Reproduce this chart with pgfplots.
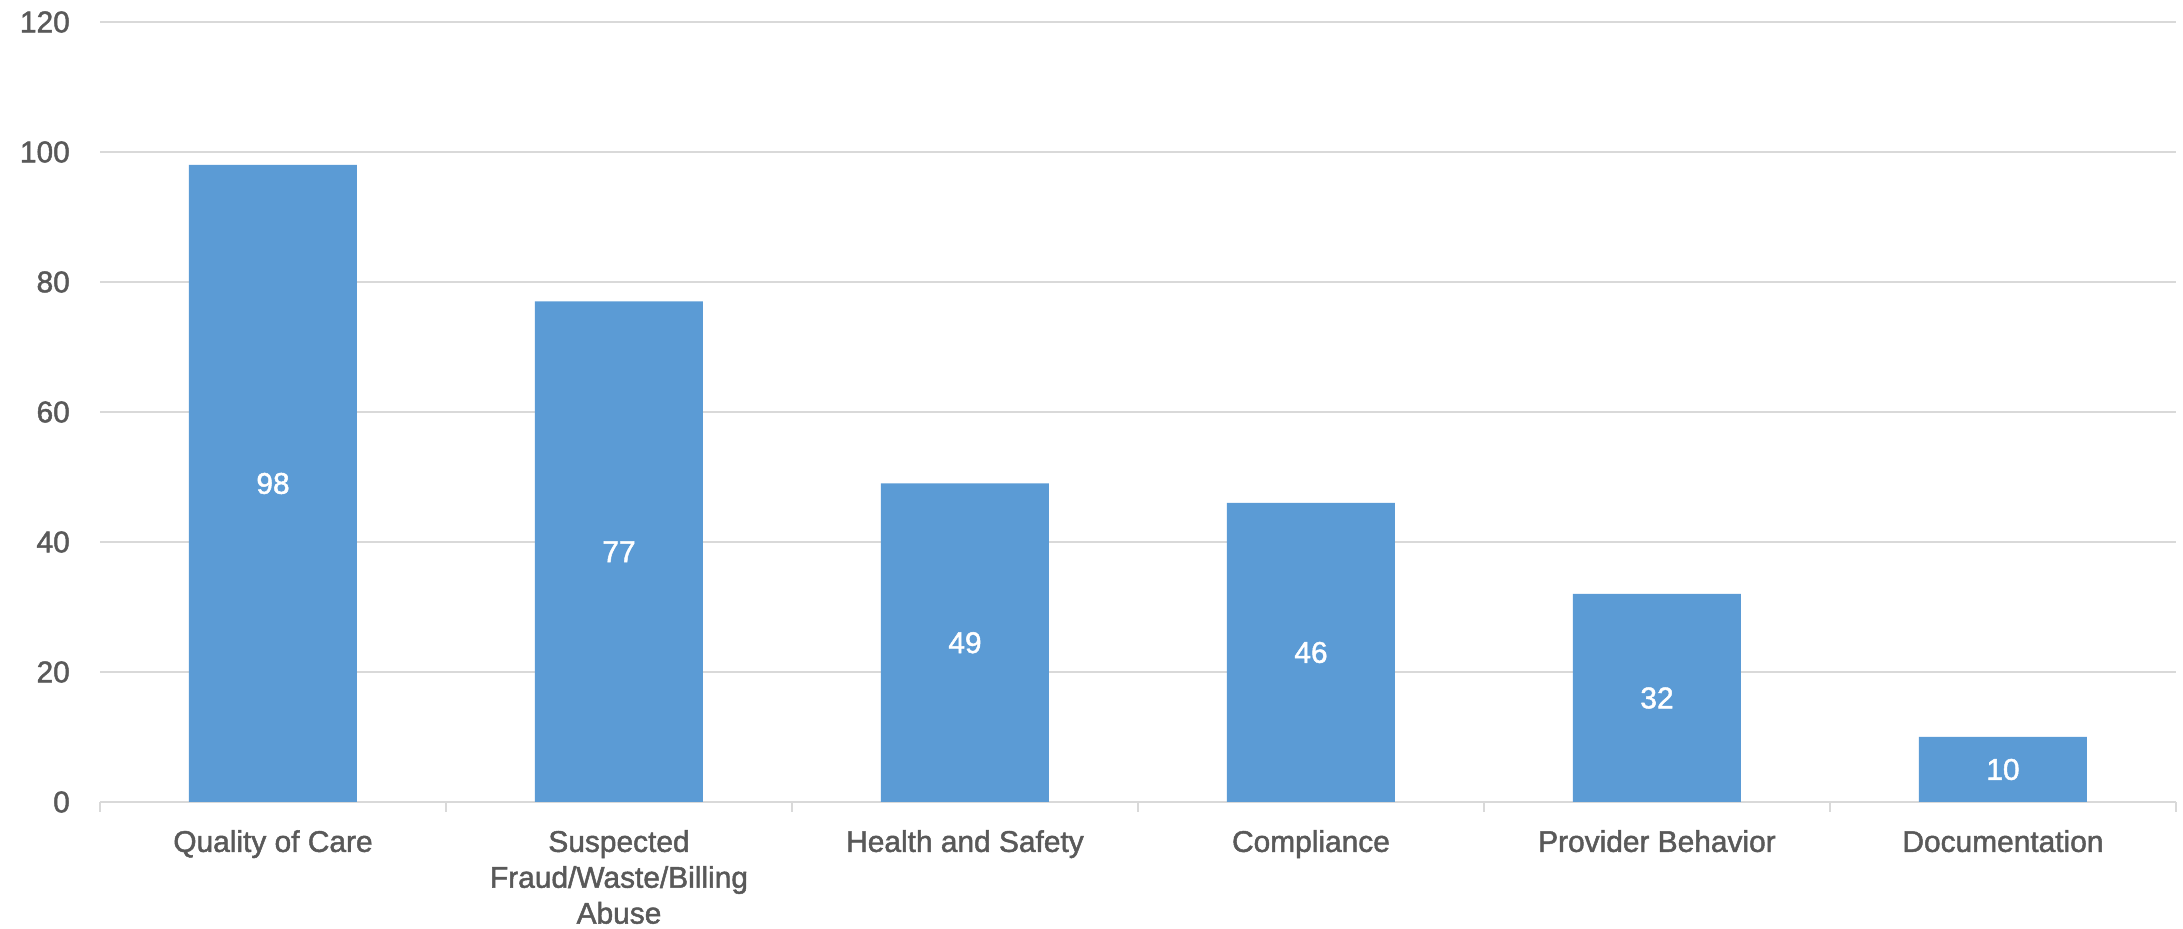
\documentclass[border=0pt]{standalone}
\usepackage{fontspec}
\setmainfont[FakeBold=1.6]{Liberation Sans}
\usepackage{pgfplots}
\pgfplotsset{compat=1.18}

\definecolor{barblue}{HTML}{5B9BD5}
\definecolor{textgray}{HTML}{595959}
\definecolor{linegray}{HTML}{D9D9D9}

\begin{document}
\begin{tikzpicture}
\useasboundingbox (0,0) rectangle (2183bp,929bp);
\begin{axis}[
  at={(100bp,127bp)}, anchor=south west,
  scale only axis,
  width=2076bp, height=780bp,
  /pgf/number format/assume math mode=true,
  ybar, bar width=168bp,
  xmin=-0.5, xmax=5.5,
  ymin=0, ymax=120,
  ytick={0,20,...,120},
  xtick={0,1,2,3,4,5},
  xticklabels={Quality of Care,{Suspected\\Fraud/Waste/Billing\\Abuse},Health and Safety,Compliance,Provider Behavior,Documentation},
  axis x line*=bottom,
  axis y line*=left,
  x axis line style={-, draw=linegray, line width=2.5bp},
  y axis line style={draw=none},
  ymajorgrids,
  grid style={draw=linegray, line width=2bp},
  major tick length=0pt,
  tick style={draw=linegray, line width=2bp},
  tick align=outside,
  % category separators below the axis line
  extra x ticks={-0.5,0.5,1.5,2.5,3.5,4.5,5.5},
  extra x tick labels={},
  extra x tick style={grid=none, major tick length=10bp},
  tick label style={font=\fontsize{30}{36}\selectfont, text=textgray},
  xticklabel style={align=center, inner sep=0pt, anchor=north, yshift=-28bp},
  yticklabel style={inner sep=0pt, anchor=east, xshift=-30bp},
  visualization depends on=rawy\as\rawy,
  nodes near coords,
  every node near coord/.append style={
    font=\fontsize{30}{36}\selectfont, text=white, inner sep=0pt,
    anchor=center, shift={(axis direction cs:0,-\rawy/2)},
  },
]
\addplot[fill=barblue, draw=none] coordinates {
  (0,98) (1,77) (2,49) (3,46) (4,32) (5,10)
};
\end{axis}
\end{tikzpicture}
\end{document}
